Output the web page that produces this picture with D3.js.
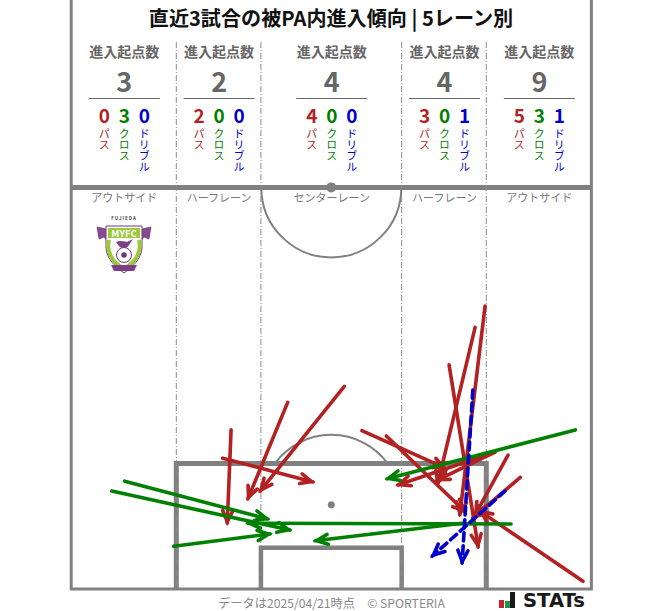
<!DOCTYPE html>
<html>
<head>
<meta charset="utf-8">
<script src="https://cdn.jsdelivr.net/npm/d3@7"></script>
<style>
  body { margin: 0; background: #fff; }
  text { font-family: "Noto Sans CJK JP", "Noto Sans", sans-serif; }
</style>
</head>
<body>
<div id="chart"></div>
<script>
// Lane data
const laneNames = ["アウトサイド", "ハーフレーン", "センターレーン", "ハーフレーン", "アウトサイド"];
const laneTotals = [3, 2, 4, 4, 9];
const passCounts = [0, 2, 4, 3, 5];
const crossCounts = [3, 0, 0, 0, 3];
const dribbleCounts = [0, 0, 0, 1, 1];
const laneEdges = [-34, -20.26, -9.2, 9.2, 20.26, 34]; // metres from centre of pitch

// Arrows [x0, y0, x1, y1], metres: x from the centre, y from the goal line
const passArrows = [
  [-13.1, 20.8, -13.6, 8.6],
  [-14.2, 17.1, -2.4, 14.0],
  [-5.7, 24.4, -10.9, 11.8],
  [1.7, 26.5, -9.3, 12.8],
  [4.0, 20.7, 14.9, 15.8],
  [7.2, 20.0, 17.5, 10.1],
  [15.4, 29.3, 19.2, 5.5],
  [18.8, 34.2, 13.9, 13.7],
  [20.1, 37.0, 16.8, 9.7],
  [21.4, 17.9, 8.7, 13.6],
  [21.4, 17.9, 13.8, 14.2],
  [23.1, 17.5, 18.8, 9.7],
  [24.7, 14.6, 18.5, 9.3],
  [32.9, 1.0, 19.4, 10.2]
];
const crossArrows = [
  [-27.0, 14.1, -8.3, 9.15],
  [-28.7, 12.8, -5.4, 7.7],
  [-20.6, 5.6, -8.0, 7.2],
  [31.9, 20.8, 7.3, 14.4],
  [23.5, 8.5, -10.9, 8.6],
  [17.1, 8.6, -2.1, 6.3]
];
const dribbleArrows = [
  [18.5, 26.0, 17.1, 3.4],
  [22.7, 12.8, 13.2, 4.3]
];

const width = 663, height = 611;
const red = "#b22222", green = "#008000", blue = "#0000cd";
const lineGrey = "#808080", textGrey = "#666";

const svg = d3.select("#chart").append("svg")
  .attr("width", width)
  .attr("height", height)
  .style("display", "block");

// Pitch scales, 7.65px per metre
const x = d3.scaleLinear().domain([-34, 34]).range([71.2, 591.4]);
const y = d3.scaleLinear().domain([0, 52.5]).range([589, 187.4]);

// Arrow heads
const defs = svg.append("defs");
[["pass", red], ["cross", green], ["dribble", blue]].forEach(([id, col]) => {
  defs.append("marker")
    .attr("id", "head-" + id)
    .attr("markerUnits", "userSpaceOnUse")
    .attr("viewBox", "-16 -9 20 18")
    .attr("refX", 1.5).attr("refY", 0)
    .attr("markerWidth", 20).attr("markerHeight", 18)
    .attr("orient", "auto")
    .append("path")
    .attr("d", "M-11,-5L0,0L-11,5")
    .attr("fill", "none")
    .attr("stroke", col)
    .attr("stroke-width", 3.6)
    .attr("stroke-linecap", "round")
    .attr("stroke-linejoin", "miter");
});

// Pitch markings
const pitch = svg.append("g").attr("fill", "none").attr("stroke", lineGrey);

pitch.append("path")
  .attr("d", `M${x(-34)},0V${y(0)}H${x(34)}V0`)
  .attr("stroke-width", 3);

const arc = d3.arc();
const pxPerMetre = x(1) - x(0);

pitch.append("path")
  .attr("transform", `translate(${x(0)},${y(52.5)})`)
  .attr("d", arc({innerRadius: 9.15 * pxPerMetre, outerRadius: 9.15 * pxPerMetre, startAngle: Math.PI / 2, endAngle: Math.PI * 1.5}))
  .attr("stroke-width", 2);

// D of the penalty area, clipped at the box
const dAngle = Math.acos(5.5 / 9.15);
pitch.append("path")
  .attr("transform", `translate(${x(0)},${y(11)})`)
  .attr("d", arc({innerRadius: 9.15 * pxPerMetre, outerRadius: 9.15 * pxPerMetre, startAngle: -dAngle, endAngle: dAngle}))
  .attr("stroke-width", 2);

pitch.append("path")
  .attr("d", `M${x(-20.26)},${y(0)}V${y(16.4)}H${x(20.26)}V${y(0)}`)
  .attr("stroke-width", 5);

pitch.append("path")
  .attr("d", `M${x(-9.2)},${y(0)}V${y(5.4)}H${x(9.2)}V${y(0)}`)
  .attr("stroke-width", 4.5);

pitch.append("line")
  .attr("x1", x(-34)).attr("x2", x(34))
  .attr("y1", y(52.5)).attr("y2", y(52.5))
  .attr("stroke-width", 5);

svg.append("circle").attr("cx", x(0)).attr("cy", y(52.5)).attr("r", 5).attr("fill", lineGrey);
svg.append("circle").attr("cx", x(0)).attr("cy", y(11)).attr("r", 3.5).attr("fill", lineGrey);

// Lane separators
svg.append("g")
  .selectAll("line")
  .data(laneEdges.slice(1, -1))
  .enter().append("line")
  .attr("x1", d => x(d)).attr("x2", d => x(d))
  .attr("y1", 42).attr("y2", y(0))
  .attr("stroke", "#8a8a8a")
  .attr("stroke-width", 1)
  .attr("stroke-dasharray", "6 2 1 2");

// Title
svg.append("text")
  .attr("x", 331).attr("y", 26)
  .attr("text-anchor", "middle")
  .style("font-size", "20.1px")
  .style("font-weight", 700)
  .attr("fill", "#111")
  .text("直近3試合の被PA内進入傾向 | 5レーン別");

// Lane headers
const laneCentre = i => (x(laneEdges[i]) + x(laneEdges[i + 1])) / 2 + 0.5;

laneNames.forEach((name, i) => {
  const cx = laneCentre(i);
  const g = svg.append("g").attr("transform", `translate(${cx},0)`);

  g.append("text")
    .attr("y", 57)
    .attr("text-anchor", "middle")
    .style("font-size", "14px")
    .style("font-weight", 700)
    .attr("fill", textGrey)
    .text("進入起点数");

  g.append("text")
    .attr("y", 92)
    .attr("text-anchor", "middle")
    .style("font-size", "27px")
    .style("font-weight", 700)
    .attr("fill", textGrey)
    .text(laneTotals[i]);

  g.append("line")
    .attr("x1", -35.5).attr("x2", 35.5)
    .attr("y1", 98.5).attr("y2", 98.5)
    .attr("stroke", textGrey)
    .attr("stroke-width", 1);

  const kinds = [
    [passCounts[i], "パス", red, -20],
    [crossCounts[i], "クロス", green, 0],
    [dribbleCounts[i], "ドリブル", blue, 20]
  ];
  kinds.forEach(([count, label, col, dx]) => {
    g.append("text")
      .attr("x", dx).attr("y", 123)
      .attr("text-anchor", "middle")
      .style("font-size", "19px")
      .style("font-weight", 700)
      .attr("fill", col)
      .text(count);

    g.append("text")
      .attr("x", dx).attr("y", 128)
      .style("writing-mode", "vertical-rl")
      .style("font-size", "11px")
      .attr("fill", col)
      .text(label);
  });

  g.append("text")
    .attr("y", 202)
    .attr("text-anchor", "middle")
    .style("font-size", "11px")
    .attr("fill", "#777")
    .text(name);
});

// Arrows
const arrowLayer = svg.append("g").attr("fill", "none").attr("stroke-linecap", "round");

function drawArrows(rows, col, id, dash) {
  arrowLayer.append("g")
    .selectAll("line")
    .data(rows)
    .enter().append("line")
    .attr("x1", d => x(d[0])).attr("y1", d => y(d[1]))
    .attr("x2", d => x(d[2])).attr("y2", d => y(d[3]))
    .attr("stroke", col)
    .attr("stroke-width", 3.6)
    .attr("stroke-dasharray", dash)
    .attr("marker-end", `url(#head-${id})`);
}
drawArrows(passArrows, red, "pass", null);
drawArrows(crossArrows, green, "cross", null);
drawArrows(dribbleArrows, blue, "dribble", "8 5");

// Club badge
const badge = svg.append("g").attr("transform", "translate(124,245)");
badge.append("text")
  .attr("y", -25)
  .attr("text-anchor", "middle")
  .style("font-size", "4.5px").style("font-weight", 700).style("letter-spacing", "1px")
  .attr("fill", "#444")
  .text("FUJIEDA");
badge.append("path") // ribbons
  .attr("d", "M-27,-18L-13,-15L-15,-2L-20,-8L-25,-6ZM27,-18L13,-15L15,-2L20,-8L25,-6Z")
  .attr("fill", "#8a4a8f").attr("stroke", "#5c2c66").attr("stroke-width", 0.6);
badge.append("path") // shield
  .attr("d", "M-18,-19H18V2C18,14 8,22 0,28C-8,22 -18,14 -18,2Z")
  .attr("fill", "#fff").attr("stroke", "#6d3a78").attr("stroke-width", 1);
badge.append("path") // green top
  .attr("d", "M-16,-17H16V-7H-16Z")
  .attr("fill", "#9cc83c");
badge.append("text")
  .attr("y", -8.5)
  .attr("text-anchor", "middle")
  .style("font-size", "9.5px").style("font-weight", 700)
  .attr("fill", "#fff")
  .text("MYFC");
badge.append("path") // laurel
  .attr("d", "M-15,-5C-18,6 -12,16 -3,22M15,-5C18,6 12,16 3,22")
  .attr("fill", "none").attr("stroke", "#9cc83c").attr("stroke-width", 4);
badge.append("path") // bird
  .attr("d", "M-8,-3C-3,-5 2,-3 3,-3L9,-6L5,0C3,4 -3,4 -5,1Z")
  .attr("fill", "#7b3f86");
badge.append("circle").attr("cy", 10).attr("r", 7.5).attr("fill", "#fff").attr("stroke", "#6d3a78");
badge.append("circle").attr("cy", 10).attr("r", 2.8).attr("fill", "#6d3a78");
badge.append("path") // banner
  .attr("d", "M-13,20L13,20L10,26L-10,26Z")
  .attr("fill", "#7b3f86");

// Footer
svg.append("text")
  .attr("x", 331.5).attr("y", 608)
  .attr("text-anchor", "middle")
  .style("font-size", "12.2px")
  .attr("fill", "#888")
  .text("データは2025/04/21時点　© SPORTERIA");

const stats = svg.append("g").attr("transform", "translate(499,608)");
stats.append("rect").attr("x", 0).attr("y", -8).attr("width", 5).attr("height", 8).attr("fill", "#c8202c");
stats.append("rect").attr("x", 6).attr("y", -7).attr("width", 5).attr("height", 7).attr("fill", "#1a9850");
stats.append("rect").attr("x", 11).attr("y", -16).attr("width", 5).attr("height", 16).attr("fill", "#1a1a1a");
stats.append("text")
  .attr("x", 24).attr("y", -1.5)
  .attr("textLength", 62)
  .attr("lengthAdjust", "spacingAndGlyphs")
  .style("font-family", "'DejaVu Sans', sans-serif")
  .style("font-size", "19px")
  .style("font-weight", 700)
  .attr("fill", "#1a1a1a")
  .text("STATs");
</script>
</body>
</html>
